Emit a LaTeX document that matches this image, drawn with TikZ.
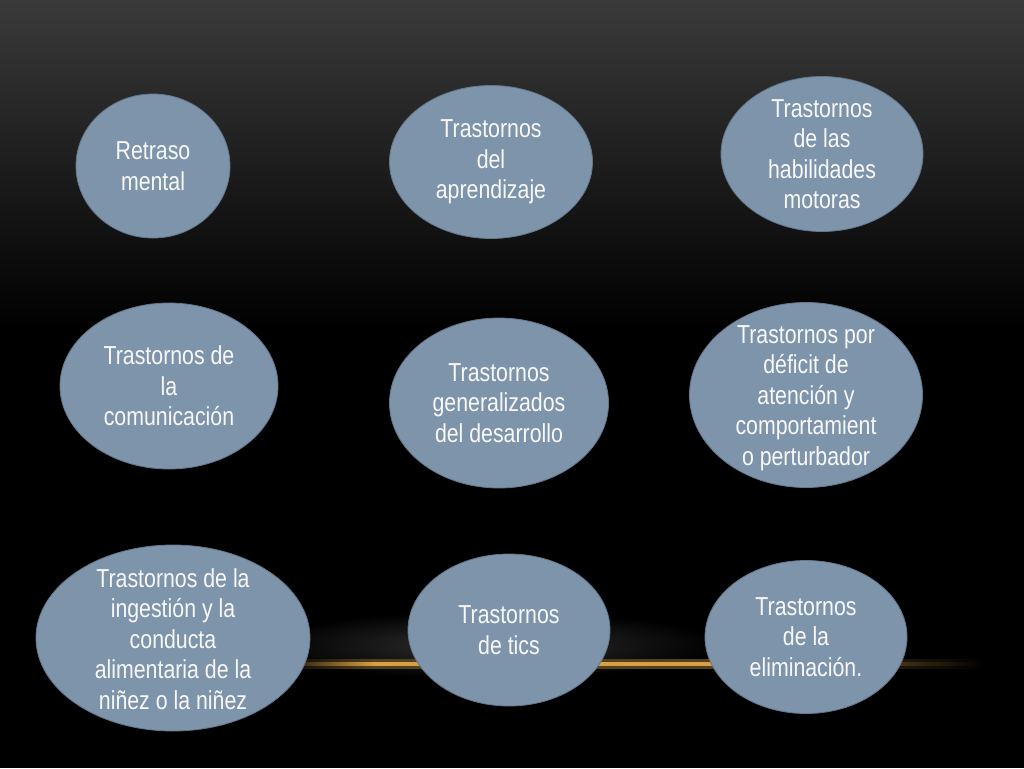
\documentclass[tikz,border=0pt]{standalone}
\usepackage{fontspec}
\setmainfont[FakeStretch=0.82]{Liberation Sans}
\usetikzlibrary{shapes.geometric}
\definecolor{blobfill}{RGB}{125,148,171}
\definecolor{blobedge}{RGB}{100,118,138}
\definecolor{gold}{RGB}{214,160,70}
\definecolor{txtcol}{RGB}{248,248,248}
\pgfdeclarehorizontalshading{goldline}{100bp}{
  color(0bp)=(black);
  color(25bp)=(black);
  color(32bp)=(gold);
  color(57bp)=(gold);
  color(70bp)=(black!75!gold);
  color(75bp)=(black);
  color(100bp)=(black)}
\pgfdeclarehorizontalshading{goldglow}{100bp}{
  color(0bp)=(black);
  color(25bp)=(black);
  color(32bp)=(black!60!gold);
  color(57bp)=(black!60!gold);
  color(70bp)=(black!88!gold);
  color(75bp)=(black);
  color(100bp)=(black)}
\tikzset{
  blob/.style={ellipse, fill=blobfill, draw=blobedge, line width=0.8pt, inner sep=0pt},
  lbl/.style={align=center, text=txtcol, font=\fontsize{26}{30.5}\selectfont, inner sep=0pt}
}
\begin{document}
\begin{tikzpicture}[x=1pt,y=-1pt]
\useasboundingbox (0,0) rectangle (1024,768);
% background
\fill[black] (0,0) rectangle (1024,768);
\shade[top color={rgb,255:red,58;green,58;blue,58}, bottom color=black] (0,0) rectangle (1024,330);
% glow above line
\shade[inner color={rgb,255:red,50;green,50;blue,50}, outer color=black] (490,645) ellipse [x radius=230, y radius=34];
% gold line
\shade[shading=goldglow] (275,659.5) rectangle (985,668.5);
\shade[shading=goldline] (275,662.5) rectangle (985,665.5);

% ellipses
\node[blob, minimum width=154, minimum height=144] (e1) at (153,166) {};
\node[blob, minimum width=203, minimum height=153] (e2) at (491,162) {};
\node[blob, minimum width=202, minimum height=155] (e3) at (822,154) {};
\node[blob, minimum width=218, minimum height=166] (e4) at (169,386) {};
\node[blob, minimum width=219, minimum height=170] (e5) at (499,403) {};
\node[blob, minimum width=233, minimum height=185] (e6) at (806,395) {};
\node[blob, minimum width=274, minimum height=186] (e7) at (173,638) {};
\node[blob, minimum width=202, minimum height=152] (e8) at (509,630) {};
\node[blob, minimum width=202, minimum height=153] (e9) at (806,637) {};

% labels
\node[lbl] (t1) at (e1) {Retraso\\mental};
\node[lbl] (t2) at (e2) {Trastornos\\del\\aprendizaje};
\node[lbl] (t3) at (e3) {Trastornos\\de las\\habilidades\\motoras};
\node[lbl] (t4) at (e4) {Trastornos de\\la\\comunicación};
\node[lbl] (t5) at (e5) {Trastornos\\generalizados\\del desarrollo};
\node[lbl] (t6) at (806,398) {Trastornos por\\déficit de\\atención y\\comportamient\\o perturbador};
\node[lbl] (t7) at (173,639) {Trastornos de la\\ingestión y la\\conducta\\alimentaria de la\\niñez o la niñez};
\node[lbl] (t8) at (e8) {Trastornos\\de tics};
\node[lbl] (t9) at (e9) {Trastornos\\de la\\eliminación.};
\end{tikzpicture}
\end{document}
